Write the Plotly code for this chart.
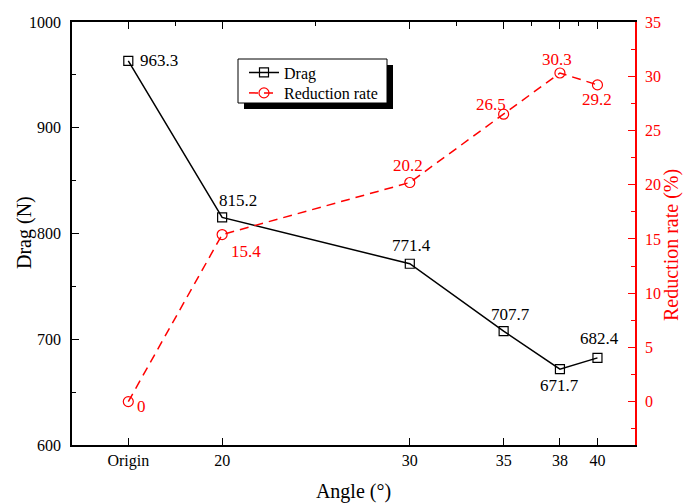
import plotly.graph_objects as go

# ---- data ----
angles = [15, 20, 30, 35, 38, 40]          # "Origin" placed at 15
tick_text = ["Origin", "20", "30", "35", "38", "40"]
drag = [963.3, 815.2, 771.4, 707.7, 671.7, 682.4]
reduction = [0, 15.4, 20.2, 26.5, 30.3, 29.2]
top_minor = [17.5, 25, 32.5, 36.5, 39]

# ---- style ----
FONT = "Liberation Serif, Times New Roman, serif"
RED = "#ff0000"
drag_shift = [(10, 0, "left"), (16, 17, "center"), (2, 18, "center"),
              (7, 17, "center"), (0, -16, "center"), (2, 19, "center")]
red_shift = [(7, -5, "left"), (24, -17, "center"), (-2, 17, "center"),
             (-13, 10, "center"), (-3, 13, "center"), (0, -15, "center")]

L, R, T, B = 72, 49, 22, 59
W, H = 684, 504
PW, PH = W - L - R, H - T - B


def px2paper(px, py):
    return (px - L) / PW, (H - B - py) / PH


fig = go.Figure()
fig.add_trace(go.Scatter(
    x=angles, y=drag, name="Drag", mode="lines+markers", legend="legend",
    line=dict(color="black", width=1.5),
    marker=dict(symbol="square-open", size=9, color="black", line=dict(width=1.2)),
))
fig.add_trace(go.Scatter(
    x=angles, y=reduction, name="Reduction rate", mode="lines+markers",
    yaxis="y2", legend="legend2",
    line=dict(color=RED, width=1.5, dash="9px,6px"),
    marker=dict(symbol="circle-open", size=10, color=RED, line=dict(width=1.2)),
))
# invisible trace for the top tick axis
fig.add_trace(go.Scatter(x=[angles[0]], y=[drag[0]], xaxis="x2", mode="markers",
                         marker=dict(opacity=0), showlegend=False, hoverinfo="skip"))

ann = []
for xv, yv, (dx, dy, xa) in zip(angles, drag, drag_shift):
    ann.append(dict(x=xv, y=yv, xref="x", yref="y", text=f"{yv}", showarrow=False,
                    xshift=dx, yshift=dy, xanchor=xa,
                    font=dict(family=FONT, size=17, color="black")))
for xv, yv, (dx, dy, xa) in zip(angles, reduction, red_shift):
    ann.append(dict(x=xv, y=yv, xref="x", yref="y2", text=f"{yv:g}", showarrow=False,
                    xshift=dx, yshift=dy, xanchor=xa,
                    font=dict(family=FONT, size=17, color=RED)))

# y-axis titles as rotated text
ylx, yly = px2paper(24, 233)
ann.append(dict(x=ylx, y=yly, xref="paper", yref="paper", text="Drag (N)",
                textangle=-90, showarrow=False, xanchor="center", yanchor="middle",
                font=dict(family=FONT, size=20, color="black")))
yrx, yry = px2paper(671, 245)
ann.append(dict(x=yrx, y=yry, xref="paper", yref="paper", text="Reduction rate (%)",
                textangle=-90, showarrow=False, xanchor="center", yanchor="middle",
                borderpad=0, font=dict(family=FONT, size=20, color=RED)))

# legend box with shadow
bx0, by0 = px2paper(238, 59)
bx1, by1 = px2paper(387, 103)
sx0, sy0 = px2paper(244, 65)
sx1, sy1 = px2paper(393, 109)
shapes = [
    dict(type="rect", xref="paper", yref="paper", x0=sx0, y0=sy0, x1=sx1, y1=sy1,
         fillcolor="black", line=dict(width=0), layer="above"),
    dict(type="rect", xref="paper", yref="paper", x0=bx0, y0=by0, x1=bx1, y1=by1,
         fillcolor="white", line=dict(color="black", width=1), layer="above"),
]
l1x, l1y = px2paper(244, 55.5)
l2x, l2y = px2paper(244, 76)
leg_common = dict(xanchor="left", yanchor="top", bgcolor="rgba(0,0,0,0)",
                  borderwidth=0, font=dict(family=FONT, size=16), itemwidth=30)

fig.update_layout(
    width=W, height=H,
    margin=dict(l=L, r=R, t=T, b=B, autoexpand=False),
    paper_bgcolor="white", plot_bgcolor="white",
    font=dict(family=FONT, size=16, color="black"),
    showlegend=True,
    legend=dict(x=l1x, y=l1y, **leg_common),
    legend2=dict(x=l2x, y=l2y, **leg_common),
    xaxis=dict(range=[12, 42], tickmode="array", tickvals=angles, ticktext=tick_text,
               ticks="inside", ticklen=7, tickwidth=1.3, tickcolor="black",
               showline=True, linecolor="black", linewidth=1.5, showgrid=False,
               zeroline=False, ticklabelstandoff=0, automargin=False,
               title=dict(text="Angle (°)", font=dict(size=20), standoff=15)),
    xaxis2=dict(range=[12, 42], overlaying="x", side="top", anchor="y",
                tickmode="array", tickvals=angles, showticklabels=False,
                ticks="inside", ticklen=7, tickwidth=1.3, tickcolor="black",
                minor=dict(tickmode="array", tickvals=top_minor, ticks="inside",
                           ticklen=4, tickwidth=1.3, tickcolor="black"),
                showline=True, linecolor="black", linewidth=1.5, showgrid=False,
                zeroline=False, automargin=False),
    yaxis=dict(range=[600, 1000], dtick=100, tick0=600,
               ticks="inside", ticklen=7, tickwidth=1.3, tickcolor="black",
               minor=dict(dtick=50, ticks="inside", ticklen=4, tickwidth=1.3,
                          tickcolor="black"),
               showline=True, linecolor="black", linewidth=1.5, showgrid=False,
               zeroline=False, ticklabelstandoff=6, automargin=False),
    yaxis2=dict(range=[-4, 35], dtick=5, tick0=0, overlaying="y", side="right",
                ticks="inside", ticklen=7, tickwidth=1.3, tickcolor=RED,
                minor=dict(dtick=2.5, ticks="inside", ticklen=4, tickwidth=1.3,
                           tickcolor=RED),
                showline=True, linecolor=RED, linewidth=1.5, showgrid=False,
                zeroline=False, ticklabelstandoff=5, automargin=False,
                tickfont=dict(color=RED)),
    annotations=ann,
    shapes=shapes,
)

fig.write_html("out.html")
